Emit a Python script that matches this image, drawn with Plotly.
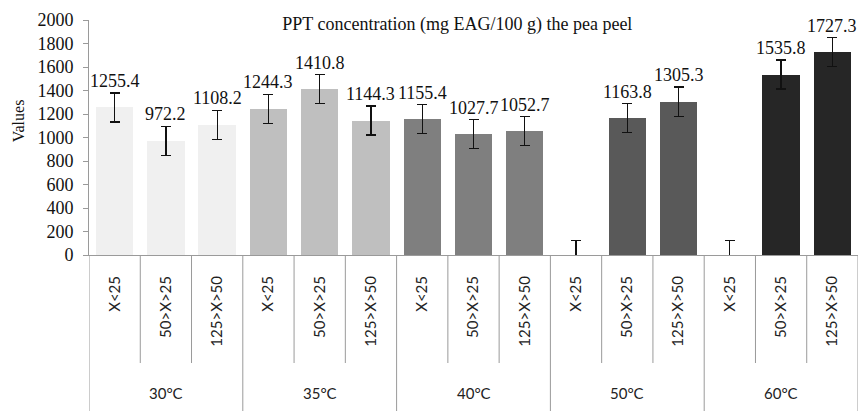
import plotly.graph_objects as go

# Extraction temperatures and particle-size fractions
temperatures = ["30°C", "35°C", "40°C", "50°C", "60°C"]
sizes = ["X<25", "50>X>25", "125>X>50"]

# PPT concentration (mg EAG/100 g) per temperature, one value per size fraction
values_30 = [1255.4, 972.2, 1108.2]
values_35 = [1244.3, 1410.8, 1144.3]
values_40 = [1155.4, 1027.7, 1052.7]
values_50 = [0, 1163.8, 1305.3]
values_60 = [0, 1535.8, 1727.3]

# Standard error shown on every bar
std_error = 123.6

bar_colors = ["#F0F0F0", "#BFBFBF", "#7F7F7F", "#595959", "#262626"]
y_ticks = [0, 200, 400, 600, 800, 1000, 1200, 1400, 1600, 1800, 2000]

groups = [values_30, values_35, values_40, values_50, values_60]

# Flatten into one row of slots along the x axis
x_pos, y_vals, colors, x_text = [], [], [], []
idx = 0
for g, vals in enumerate(groups):
    for s, v in enumerate(vals):
        x_pos.append(idx)
        y_vals.append(v)
        colors.append(bar_colors[g])
        x_text.append(sizes[s])
        idx += 1
n_slots = idx

fig = go.Figure()
fig.add_trace(go.Bar(
    x=x_pos,
    y=y_vals,
    width=0.73,
    marker=dict(color=colors, line=dict(width=0)),
    error_y=dict(type="constant", value=std_error, color="#111111",
                 thickness=1.3, width=5),
    hoverinfo="x+y",
))

serif = "Liberation Serif"
sans = "Lato"

# Value labels above the error bars (empty bars carry no label)
annotations = []
for xp, v in zip(x_pos, y_vals):
    if v > 0:
        annotations.append(dict(
            x=xp, y=v + std_error, xref="x", yref="y",
            text=f"{v:.1f}", showarrow=False, yanchor="bottom",
            yshift=0, font=dict(family=serif, size=18, color="#111111"),
        ))

# Vertical axis title
annotations.append(dict(
    x=-0.092, y=0.57, xref="paper", yref="paper", text="Values",
    textangle=-90, showarrow=False, xanchor="center", yanchor="middle",
    font=dict(family=serif, size=16, color="#111111"),
))

# Temperature group labels and the divider lines of the category table
plot_h = 235
y_row_end = -(363 - 255) / plot_h
y_bottom = -(412 - 255) / plot_h
y_group_label = -(393 - 255) / plot_h
shapes = []
start = 0
for g, vals in enumerate(groups):
    n = len(vals)
    center = start + (n - 1) / 2
    annotations.append(dict(
        x=center, y=y_group_label, xref="x", yref="paper", text=temperatures[g],
        showarrow=False, yanchor="middle",
        font=dict(family=sans, size=15, color="#222222"),
    ))
    for k in range(1, n):
        shapes.append(dict(type="line", xref="x", yref="paper",
                           x0=start + k - 0.5, x1=start + k - 0.5,
                           y0=0, y1=y_row_end,
                           line=dict(color="#9A9A9A", width=1)))
    shapes.append(dict(type="line", xref="x", yref="paper",
                       x0=start - 0.5, x1=start - 0.5, y0=0, y1=y_bottom,
                       line=dict(color="#9A9A9A", width=1)))
    start += n
shapes.append(dict(type="line", xref="x", yref="paper",
                   x0=start - 0.5, x1=start - 0.5, y0=0, y1=y_bottom,
                   line=dict(color="#9A9A9A", width=1)))

fig.update_layout(
    width=861, height=411,
    margin=dict(l=89, r=3, t=20, b=156),
    paper_bgcolor="white", plot_bgcolor="white",
    showlegend=False,
    bargap=0,
    title=dict(text="PPT concentration (mg EAG/100 g) the pea peel",
               x=0.479, xref="paper", xanchor="center",
               y=1 - 24 / 411, yref="container", yanchor="middle",
               font=dict(family=serif, size=18, color="#111111")),
    xaxis=dict(
        range=[-0.5, n_slots - 0.5],
        tickmode="array", tickvals=x_pos, ticktext=x_text,
        tickangle=-90, ticks="", ticklabelstandoff=14,
        tickfont=dict(family=sans, size=15, color="#222222"),
        showline=True, linecolor="#9A9A9A", linewidth=1,
        showgrid=False, zeroline=False, fixedrange=True,
    ),
    yaxis=dict(
        range=[0, 2000],
        tickmode="array", tickvals=y_ticks,
        ticks="outside", ticklen=5, tickcolor="#9A9A9A",
        ticklabelstandoff=6,
        tickfont=dict(family=serif, size=18, color="#111111"),
        showline=True, linecolor="#9A9A9A", linewidth=1,
        showgrid=False, zeroline=False,
        automargin=False,
    ),
    annotations=annotations,
    shapes=shapes,
)

fig.write_html("out.html")
